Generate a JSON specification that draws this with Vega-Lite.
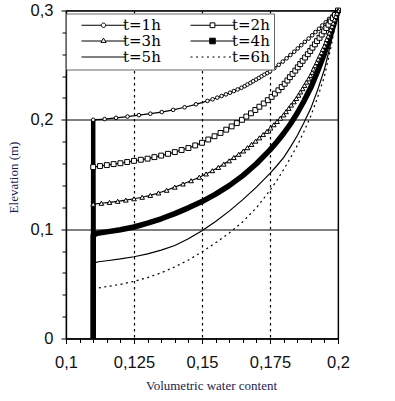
{
  "$schema": "https://vega.github.io/schema/vega-lite/v6.json",
  "width": 272,
  "height": 328,
  "autosize": {"type": "none"},
  "padding": {"left": 66, "top": 10.5, "right": 57, "bottom": 62.5},
  "background": "white",
  "config": {
    "view": {"stroke": "black", "strokeWidth": 1.2},
    "axis": {
      "domainColor": "black", "domainWidth": 1.2, "tickColor": "black", "tickWidth": 1,
      "labelColor": "#111111", "labelFont": "Liberation Sans", "labelFontSize": 16.5,
      "titleFont": "Liberation Serif", "titleFontSize": 13, "titleFontWeight": "normal", "titleColor": "#1c1c4c",
      "gridColor": "black", "gridOpacity": 1, "gridWidth": 1.2
    }
  },
  "datasets": {
    "c": [
      {"s":"t=1h","x":0.11,"y":0},{"s":"t=1h","x":0.11,"y":0.2},{"s":"t=1h","x":0.1142,"y":0.2007},{"s":"t=1h","x":0.1184,"y":0.2018},{"s":"t=1h","x":0.1226,"y":0.203},{"s":"t=1h","x":0.1268,"y":0.2043},{"s":"t=1h","x":0.131,"y":0.2056},{"s":"t=1h","x":0.1352,"y":0.2071},{"s":"t=1h","x":0.1394,"y":0.2091},{"s":"t=1h","x":0.1436,"y":0.2115},{"s":"t=1h","x":0.1478,"y":0.2142},{"s":"t=1h","x":0.152,"y":0.2173},{"s":"t=1h","x":0.1539,"y":0.2188},{"s":"t=1h","x":0.1556,"y":0.2203},{"s":"t=1h","x":0.1572,"y":0.2218},{"s":"t=1h","x":0.1588,"y":0.2233},{"s":"t=1h","x":0.1603,"y":0.2248},{"s":"t=1h","x":0.1617,"y":0.2263},{"s":"t=1h","x":0.1631,"y":0.2278},{"s":"t=1h","x":0.1645,"y":0.2293},{"s":"t=1h","x":0.1657,"y":0.2308},{"s":"t=1h","x":0.1667,"y":0.2323},{"s":"t=1h","x":0.1678,"y":0.2338},{"s":"t=1h","x":0.1688,"y":0.2353},{"s":"t=1h","x":0.1699,"y":0.2368},{"s":"t=1h","x":0.1709,"y":0.2383},{"s":"t=1h","x":0.1719,"y":0.2398},{"s":"t=1h","x":0.1729,"y":0.2413},{"s":"t=1h","x":0.174,"y":0.2428},{"s":"t=1h","x":0.175,"y":0.2443},{"s":"t=1h","x":0.1766,"y":0.2473},{"s":"t=1h","x":0.1782,"y":0.2503},{"s":"t=1h","x":0.1797,"y":0.2533},{"s":"t=1h","x":0.1811,"y":0.2563},{"s":"t=1h","x":0.1825,"y":0.2593},{"s":"t=1h","x":0.1839,"y":0.2623},{"s":"t=1h","x":0.1852,"y":0.2653},{"s":"t=1h","x":0.1865,"y":0.2683},{"s":"t=1h","x":0.1878,"y":0.2713},{"s":"t=1h","x":0.1892,"y":0.2743},{"s":"t=1h","x":0.1905,"y":0.2773},{"s":"t=1h","x":0.1917,"y":0.2803},{"s":"t=1h","x":0.193,"y":0.2833},{"s":"t=1h","x":0.1942,"y":0.2863},{"s":"t=1h","x":0.1955,"y":0.2893},{"s":"t=1h","x":0.1967,"y":0.2923},{"s":"t=1h","x":0.198,"y":0.2953},{"s":"t=1h","x":0.1993,"y":0.2983},{"s":"t=1h","x":0.2,"y":0.3},
      {"s":"t=2h","x":0.11,"y":0},{"s":"t=2h","x":0.11,"y":0.1568},{"s":"t=2h","x":0.1125,"y":0.1577},{"s":"t=2h","x":0.115,"y":0.1586},{"s":"t=2h","x":0.1175,"y":0.1595},{"s":"t=2h","x":0.12,"y":0.1603},{"s":"t=2h","x":0.1225,"y":0.1614},{"s":"t=2h","x":0.125,"y":0.1625},{"s":"t=2h","x":0.1275,"y":0.1635},{"s":"t=2h","x":0.13,"y":0.1645},{"s":"t=2h","x":0.1325,"y":0.1659},{"s":"t=2h","x":0.135,"y":0.1673},{"s":"t=2h","x":0.1375,"y":0.1689},{"s":"t=2h","x":0.14,"y":0.1705},{"s":"t=2h","x":0.1425,"y":0.1724},{"s":"t=2h","x":0.145,"y":0.1742},{"s":"t=2h","x":0.1475,"y":0.1766},{"s":"t=2h","x":0.15,"y":0.179},{"s":"t=2h","x":0.1523,"y":0.182},{"s":"t=2h","x":0.1546,"y":0.185},{"s":"t=2h","x":0.1568,"y":0.188},{"s":"t=2h","x":0.1589,"y":0.191},{"s":"t=2h","x":0.1609,"y":0.194},{"s":"t=2h","x":0.1628,"y":0.197},{"s":"t=2h","x":0.1647,"y":0.2},{"s":"t=2h","x":0.1663,"y":0.203},{"s":"t=2h","x":0.168,"y":0.206},{"s":"t=2h","x":0.1696,"y":0.209},{"s":"t=2h","x":0.1711,"y":0.212},{"s":"t=2h","x":0.1727,"y":0.215},{"s":"t=2h","x":0.1742,"y":0.218},{"s":"t=2h","x":0.1756,"y":0.221},{"s":"t=2h","x":0.1768,"y":0.224},{"s":"t=2h","x":0.1781,"y":0.227},{"s":"t=2h","x":0.1793,"y":0.23},{"s":"t=2h","x":0.1804,"y":0.233},{"s":"t=2h","x":0.1814,"y":0.236},{"s":"t=2h","x":0.1823,"y":0.239},{"s":"t=2h","x":0.1833,"y":0.242},{"s":"t=2h","x":0.1843,"y":0.245},{"s":"t=2h","x":0.1852,"y":0.248},{"s":"t=2h","x":0.1861,"y":0.251},{"s":"t=2h","x":0.187,"y":0.254},{"s":"t=2h","x":0.1879,"y":0.257},{"s":"t=2h","x":0.1889,"y":0.26},{"s":"t=2h","x":0.1898,"y":0.263},{"s":"t=2h","x":0.1906,"y":0.266},{"s":"t=2h","x":0.1915,"y":0.269},{"s":"t=2h","x":0.1923,"y":0.272},{"s":"t=2h","x":0.1932,"y":0.275},{"s":"t=2h","x":0.194,"y":0.278},{"s":"t=2h","x":0.1949,"y":0.281},{"s":"t=2h","x":0.1957,"y":0.284},{"s":"t=2h","x":0.1965,"y":0.287},{"s":"t=2h","x":0.1973,"y":0.29},{"s":"t=2h","x":0.1981,"y":0.293},{"s":"t=2h","x":0.1989,"y":0.296},{"s":"t=2h","x":0.2,"y":0.3},
      {"s":"t=3h","x":0.11,"y":0},{"s":"t=3h","x":0.11,"y":0.1229},{"s":"t=3h","x":0.113,"y":0.1237},{"s":"t=3h","x":0.116,"y":0.1245},{"s":"t=3h","x":0.119,"y":0.1255},{"s":"t=3h","x":0.122,"y":0.1266},{"s":"t=3h","x":0.125,"y":0.1278},{"s":"t=3h","x":0.128,"y":0.1292},{"s":"t=3h","x":0.131,"y":0.1309},{"s":"t=3h","x":0.134,"y":0.1331},{"s":"t=3h","x":0.137,"y":0.1356},{"s":"t=3h","x":0.14,"y":0.1384},{"s":"t=3h","x":0.143,"y":0.1413},{"s":"t=3h","x":0.146,"y":0.1443},{"s":"t=3h","x":0.149,"y":0.1475},{"s":"t=3h","x":0.1515,"y":0.1505},{"s":"t=3h","x":0.1538,"y":0.1535},{"s":"t=3h","x":0.156,"y":0.1565},{"s":"t=3h","x":0.158,"y":0.1595},{"s":"t=3h","x":0.16,"y":0.1625},{"s":"t=3h","x":0.1617,"y":0.1655},{"s":"t=3h","x":0.1635,"y":0.1685},{"s":"t=3h","x":0.1652,"y":0.1715},{"s":"t=3h","x":0.1667,"y":0.1745},{"s":"t=3h","x":0.1682,"y":0.1775},{"s":"t=3h","x":0.1697,"y":0.1805},{"s":"t=3h","x":0.1711,"y":0.1835},{"s":"t=3h","x":0.1725,"y":0.1865},{"s":"t=3h","x":0.1739,"y":0.1895},{"s":"t=3h","x":0.1752,"y":0.1925},{"s":"t=3h","x":0.1764,"y":0.1955},{"s":"t=3h","x":0.1776,"y":0.1985},{"s":"t=3h","x":0.1788,"y":0.2015},{"s":"t=3h","x":0.18,"y":0.2045},{"s":"t=3h","x":0.1809,"y":0.2075},{"s":"t=3h","x":0.1819,"y":0.2105},{"s":"t=3h","x":0.1828,"y":0.2135},{"s":"t=3h","x":0.1838,"y":0.2165},{"s":"t=3h","x":0.1847,"y":0.2195},{"s":"t=3h","x":0.1855,"y":0.2225},{"s":"t=3h","x":0.1862,"y":0.2255},{"s":"t=3h","x":0.187,"y":0.2285},{"s":"t=3h","x":0.1877,"y":0.2315},{"s":"t=3h","x":0.1884,"y":0.2345},{"s":"t=3h","x":0.1892,"y":0.2375},{"s":"t=3h","x":0.1899,"y":0.2405},{"s":"t=3h","x":0.1905,"y":0.2435},{"s":"t=3h","x":0.191,"y":0.2465},{"s":"t=3h","x":0.1916,"y":0.2495},{"s":"t=3h","x":0.1922,"y":0.2525},{"s":"t=3h","x":0.1927,"y":0.2555},{"s":"t=3h","x":0.1933,"y":0.2585},{"s":"t=3h","x":0.1939,"y":0.2615},{"s":"t=3h","x":0.1944,"y":0.2645},{"s":"t=3h","x":0.195,"y":0.2675},{"s":"t=3h","x":0.1955,"y":0.2705},{"s":"t=3h","x":0.1959,"y":0.2735},{"s":"t=3h","x":0.1964,"y":0.2765},{"s":"t=3h","x":0.1968,"y":0.2795},{"s":"t=3h","x":0.1973,"y":0.2825},{"s":"t=3h","x":0.1978,"y":0.2855},{"s":"t=3h","x":0.1982,"y":0.2885},{"s":"t=3h","x":0.1987,"y":0.2915},{"s":"t=3h","x":0.1992,"y":0.2945},{"s":"t=3h","x":0.1996,"y":0.2975},{"s":"t=3h","x":0.2,"y":0.3},
      {"s":"t=4h","x":0.11,"y":0},{"s":"t=4h","x":0.11,"y":0.0945},{"s":"t=4h","x":0.1115,"y":0.0962},{"s":"t=4h","x":0.115,"y":0.0975},{"s":"t=4h","x":0.12,"y":0.0995},{"s":"t=4h","x":0.125,"y":0.102},{"s":"t=4h","x":0.13,"y":0.1055},{"s":"t=4h","x":0.135,"y":0.1095},{"s":"t=4h","x":0.14,"y":0.1142},{"s":"t=4h","x":0.145,"y":0.1195},{"s":"t=4h","x":0.15,"y":0.1252},{"s":"t=4h","x":0.155,"y":0.132},{"s":"t=4h","x":0.16,"y":0.1398},{"s":"t=4h","x":0.165,"y":0.149},{"s":"t=4h","x":0.17,"y":0.1598},{"s":"t=4h","x":0.175,"y":0.1725},{"s":"t=4h","x":0.1775,"y":0.1797},{"s":"t=4h","x":0.18,"y":0.1875},{"s":"t=4h","x":0.1825,"y":0.1962},{"s":"t=4h","x":0.185,"y":0.206},{"s":"t=4h","x":0.1875,"y":0.2172},{"s":"t=4h","x":0.19,"y":0.2295},{"s":"t=4h","x":0.1925,"y":0.2445},{"s":"t=4h","x":0.195,"y":0.2605},{"s":"t=4h","x":0.1975,"y":0.2795},{"s":"t=4h","x":0.2,"y":0.3},
      {"s":"t=5h","x":0.11,"y":0},{"s":"t=5h","x":0.11,"y":0.069},{"s":"t=5h","x":0.112,"y":0.0702},{"s":"t=5h","x":0.115,"y":0.0711},{"s":"t=5h","x":0.12,"y":0.0728},{"s":"t=5h","x":0.125,"y":0.0748},{"s":"t=5h","x":0.13,"y":0.0774},{"s":"t=5h","x":0.135,"y":0.0808},{"s":"t=5h","x":0.14,"y":0.085},{"s":"t=5h","x":0.145,"y":0.0912},{"s":"t=5h","x":0.15,"y":0.0985},{"s":"t=5h","x":0.155,"y":0.107},{"s":"t=5h","x":0.16,"y":0.1165},{"s":"t=5h","x":0.165,"y":0.127},{"s":"t=5h","x":0.17,"y":0.1385},{"s":"t=5h","x":0.175,"y":0.151},{"s":"t=5h","x":0.1775,"y":0.158},{"s":"t=5h","x":0.18,"y":0.1655},{"s":"t=5h","x":0.1825,"y":0.175},{"s":"t=5h","x":0.185,"y":0.1855},{"s":"t=5h","x":0.1875,"y":0.1975},{"s":"t=5h","x":0.19,"y":0.2105},{"s":"t=5h","x":0.1925,"y":0.2272},{"s":"t=5h","x":0.195,"y":0.246},{"s":"t=5h","x":0.1975,"y":0.2715},{"s":"t=5h","x":0.2,"y":0.3},
      {"s":"t=6h","x":0.11,"y":0},{"s":"t=6h","x":0.11,"y":0.045},{"s":"t=6h","x":0.112,"y":0.0462},{"s":"t=6h","x":0.115,"y":0.0475},{"s":"t=6h","x":0.12,"y":0.0495},{"s":"t=6h","x":0.125,"y":0.0523},{"s":"t=6h","x":0.13,"y":0.0557},{"s":"t=6h","x":0.135,"y":0.0601},{"s":"t=6h","x":0.14,"y":0.0655},{"s":"t=6h","x":0.145,"y":0.0718},{"s":"t=6h","x":0.15,"y":0.0792},{"s":"t=6h","x":0.155,"y":0.0875},{"s":"t=6h","x":0.16,"y":0.0965},{"s":"t=6h","x":0.165,"y":0.1068},{"s":"t=6h","x":0.17,"y":0.1195},{"s":"t=6h","x":0.175,"y":0.1355},{"s":"t=6h","x":0.1775,"y":0.1445},{"s":"t=6h","x":0.18,"y":0.1545},{"s":"t=6h","x":0.1825,"y":0.165},{"s":"t=6h","x":0.185,"y":0.1765},{"s":"t=6h","x":0.1875,"y":0.1893},{"s":"t=6h","x":0.19,"y":0.2035},{"s":"t=6h","x":0.1925,"y":0.2205},{"s":"t=6h","x":0.195,"y":0.2395},{"s":"t=6h","x":0.1975,"y":0.2675},{"s":"t=6h","x":0.2,"y":0.3}
    ]
  },
  "data": {"name": "c"},
  "layer": [
    {
      "transform": [{"filter": "datum.s != 't=4h' && datum.s != 't=6h'"}],
      "mark": {"type": "line", "color": "black", "strokeWidth": 1.2},
      "encoding": {
        "x": {"field": "x", "type": "quantitative", "scale": {"domain": [0.1, 0.2], "nice": false, "zero": false},
          "axis": {"values": [0.1, 0.125, 0.15, 0.175, 0.2], "labelExpr": "replace(format(datum.value, '.3~f'), '.', ',')",
            "title": "Volumetric water content", "titleX": 145, "titleY": 46.5, "titleBaseline": "middle", "titleAlign": "center",
            "tickSize": 5, "labelPadding": 11, "labelFlush": false,
            "grid": true, "gridDash": {"condition": {"test": "datum.value < 0.11 || datum.value > 0.19", "value": [1, 0]}, "value": [2.5, 3.5]}}},
        "y": {"field": "y", "type": "quantitative", "scale": {"domain": [0, 0.3], "nice": false, "zero": false},
          "axis": {"values": [0, 0.1, 0.2, 0.3], "labelExpr": "replace(format(datum.value, '.1~f'), '.', ',')",
            "title": "Elevation (m)", "titleX": -53, "titleY": 166.5, "titleAngle": 270, "titleBaseline": "middle", "titleAlign": "center",
            "tickSize": 5, "labelPadding": 8, "labelFlush": false, "grid": true}},
        "detail": {"field": "s", "type": "nominal"},
        "order": {"field": "y", "type": "quantitative"}
      }
    },
    {
      "transform": [{"filter": "datum.s == 't=6h'"}],
      "mark": {"type": "line", "color": "black", "strokeWidth": 1.2, "strokeDash": [2, 3.5]},
      "encoding": {
        "x": {"field": "x", "type": "quantitative", "axis": null},
        "y": {"field": "y", "type": "quantitative", "axis": null},
        "order": {"field": "y", "type": "quantitative"}
      }
    },
    {
      "transform": [{"filter": "datum.s == 't=4h'"}],
      "mark": {"type": "line", "color": "black", "strokeWidth": 5.5, "strokeJoin": "round"},
      "encoding": {
        "x": {"field": "x", "type": "quantitative",
          "axis": {"values": [0.105, 0.11, 0.115, 0.12, 0.13, 0.135, 0.14, 0.145, 0.155, 0.16, 0.165, 0.17, 0.18, 0.185, 0.19, 0.195],
            "labels": false, "domain": false, "grid": false, "title": null, "tickSize": 4, "orient": "bottom"}},
        "y": {"field": "y", "type": "quantitative",
          "axis": {"values": [0.02, 0.04, 0.06, 0.08, 0.12, 0.14, 0.16, 0.18, 0.22, 0.24, 0.26, 0.28],
            "labels": false, "domain": false, "grid": false, "title": null, "tickSize": 4, "orient": "left"}},
        "order": {"field": "y", "type": "quantitative"}
      }
    },
    {
      "transform": [{"filter": "datum.x == 0.11 && datum.y > 0"}],
      "mark": {"type": "rule", "color": "black", "strokeWidth": 4.5},
      "encoding": {
        "x": {"field": "x", "type": "quantitative", "axis": null},
        "y": {"field": "y", "type": "quantitative", "axis": null},
        "y2": {"datum": 0}
      }
    },
    {
      "transform": [{"filter": "datum.s == 't=1h' && datum.y > 0"}],
      "mark": {"type": "point", "shape": "circle", "filled": true, "fill": "white", "stroke": "black", "strokeWidth": 1, "size": 13, "opacity": 1},
      "encoding": {
        "x": {"field": "x", "type": "quantitative", "axis": null},
        "y": {"field": "y", "type": "quantitative", "axis": null}
      }
    },
    {
      "transform": [{"filter": "datum.s == 't=2h' && datum.y > 0"}],
      "mark": {"type": "point", "shape": "square", "filled": true, "fill": "white", "stroke": "black", "strokeWidth": 1, "size": 24, "opacity": 1},
      "encoding": {
        "x": {"field": "x", "type": "quantitative", "axis": null},
        "y": {"field": "y", "type": "quantitative", "axis": null}
      }
    },
    {
      "transform": [{"filter": "datum.s == 't=3h' && datum.y > 0"}],
      "mark": {"type": "point", "shape": "triangle-up", "filled": true, "fill": "white", "stroke": "black", "strokeWidth": 1, "size": 22, "opacity": 1},
      "encoding": {
        "x": {"field": "x", "type": "quantitative", "axis": null},
        "y": {"field": "y", "type": "quantitative", "axis": null}
      }
    },
    {
      "transform": [{"filter": "datum.y == 0.3"}],
      "mark": {"type": "point", "filled": true, "strokeWidth": 1, "size": 6, "clip": true},
      "encoding": {
        "x": {"field": "x", "type": "quantitative", "axis": null},
        "y": {"field": "y", "type": "quantitative", "axis": null},
        "shape": {"field": "s", "type": "nominal",
          "scale": {"domain": ["t=1h", "t=2h", "t=3h", "t=4h", "t=5h", "t=6h"],
            "range": [
              "M-5.5,0L-0.55,0A0.55,0.55,0,1,1,0.55,0A0.55,0.55,0,1,1,-0.55,0M0.55,0L5.5,0",
              "M-5.5,0L-0.6,0M-0.6,-0.6L0.6,-0.6L0.6,0.6L-0.6,0.6ZM0.6,0L5.5,0",
              "M-5.5,0L-0.43,0M-0.65,0.35L0,-0.7L0.65,0.35ZM0.43,0L5.5,0",
              "M-5.5,0L-0.7,0M-0.7,-0.7L0.7,-0.7L0.7,0.7L-0.7,0.7ZM0.7,0L5.5,0",
              "M-5.5,0L5.5,0",
              "M-5.5,0L-5,0M-4.12,0L-3.62,0M-2.75,0L-2.25,0M-1.38,0L-0.88,0M0,0L0.5,0M1.38,0L1.88,0M2.75,0L3.25,0M4.12,0L4.62,0"
            ]},
          "legend": {"title": null, "orient": "none", "legendX": 0, "legendY": 3, "direction": "horizontal", "columns": 2, "padding": 4,
            "columnPadding": 18, "rowPadding": 0, "symbolSize": 64, "symbolOffset": 26, "labelOffset": 12, "symbolOpacity": 1,
            "symbolStrokeColor": "black", "symbolStrokeWidth": 1,
            "labelFont": "DejaVu Serif", "labelFontSize": 15, "labelColor": "black", "labelLimit": 200,
            "fillColor": "white", "strokeColor": "#666666"}},
        "fill": {"field": "s", "type": "nominal",
          "scale": {"domain": ["t=1h", "t=2h", "t=3h", "t=4h", "t=5h", "t=6h"], "range": ["white", "white", "white", "black", "white", "white"]},
          "legend": {"title": null, "orient": "none", "legendX": 0, "legendY": 3, "direction": "horizontal", "columns": 2, "padding": 4,
            "columnPadding": 18, "rowPadding": 0, "symbolSize": 64, "symbolOffset": 26, "labelOffset": 12, "symbolOpacity": 1,
            "symbolStrokeColor": "black", "symbolStrokeWidth": 1,
            "labelFont": "DejaVu Serif", "labelFontSize": 15, "labelColor": "black", "labelLimit": 200,
            "fillColor": "white", "strokeColor": "#666666"}},
        "stroke": {"field": "s", "type": "nominal",
          "scale": {"domain": ["t=1h", "t=2h", "t=3h", "t=4h", "t=5h", "t=6h"], "range": ["black", "black", "black", "black", "black", "black"]},
          "legend": {"title": null, "orient": "none", "legendX": 0, "legendY": 3, "direction": "horizontal", "columns": 2, "padding": 4,
            "columnPadding": 18, "rowPadding": 0, "symbolSize": 64, "symbolOffset": 26, "labelOffset": 12, "symbolOpacity": 1,
            "symbolStrokeColor": "black", "symbolStrokeWidth": 1,
            "labelFont": "DejaVu Serif", "labelFontSize": 15, "labelColor": "black", "labelLimit": 200,
            "fillColor": "white", "strokeColor": "#666666"}}
      }
    }
  ],
  "resolve": {"axis": {"x": "independent", "y": "independent"}}
}
